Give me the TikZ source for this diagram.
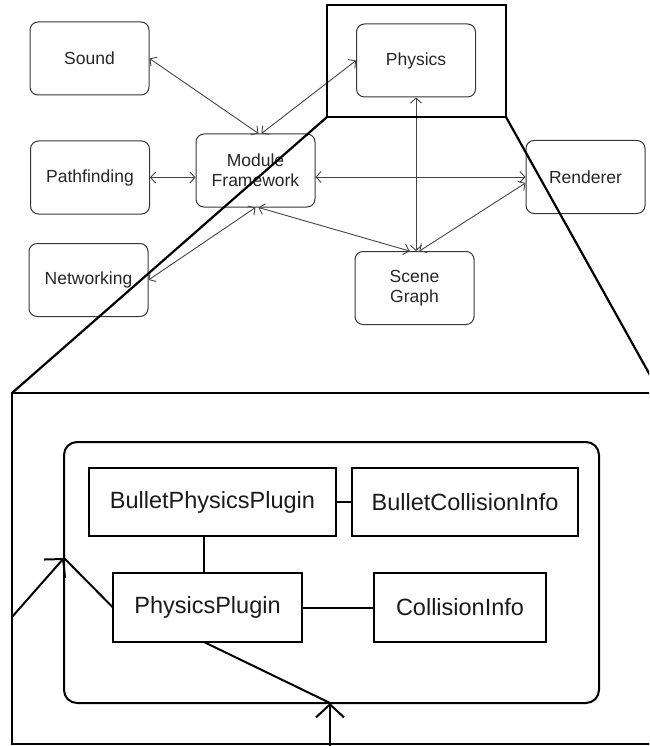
\documentclass[tikz,border=0pt]{standalone}
\usepackage{fontspec}
\setmainfont{Liberation Sans}
\usetikzlibrary{arrows.meta,calc}
\definecolor{modgray}{HTML}{363636}
\definecolor{arrgray}{HTML}{444444}
\definecolor{txtgray}{HTML}{262626}
\definecolor{txtdark}{HTML}{1A1A1A}
\begin{document}
\begin{tikzpicture}[x=1pt,y=-1pt,
  mod/.style={draw=modgray, line width=1pt, rounded corners=8pt, minimum width=119pt, minimum height=73pt, inner sep=0pt, align=center, text=txtgray, font=\fontsize{17.5pt}{20pt}\selectfont, fill=white},
  link/.style={draw=arrgray, line width=0.9pt, {Straight Barb[length=5pt,width=11pt]}-{Straight Barb[length=5pt,width=11pt]}},
  zoomframe/.style={draw, line width=2.2pt, inner sep=0pt, outer sep=0pt},
  cls/.style={draw, line width=2pt, inner sep=0pt, outer sep=0pt, font=\fontsize{23.5pt}{28pt}\selectfont, text=txtdark},
  thickline/.style={line width=2pt},
  bigarrow/.style={line width=2pt, -{Straight Barb[length=13pt,width=28pt]}}
]
\useasboundingbox (0,0) rectangle (649,746);
\clip (0,0) rectangle (649,746);

% top modules
\node[mod] (snd) at (89.5,58.5) {Sound};
\node[mod] (pf)  at (90,177.5) {Pathfinding};
\node[mod] (net) at (88.5,280) {Networking};
\node[mod] (mf)  at (255.5,170.5) {Module\\Framework};
\node[mod] (phy) at (416,60.5) {Physics};
\node[mod] (ren) at (585.5,177) {Renderer};
\node[mod] (sg)  at (414.5,288) {Scene\\Graph};

% connectors
\draw[link] (snd.east) -- ($(mf.north)+(3,0)$);
\draw[link] (phy.west) -- ($(mf.north)+(6,0)$);
\draw[link] (pf.east) -- (pf.east -| mf.west);
\draw[link] (mf.east |- ren.west) -- (ren.west);
\draw[link] (net.east) -- (mf.south);
\draw[link] ($(mf.south)+(3,0)$) -- ($(sg.north)+(-5,0)$);
\draw[link] (phy.south) -- (phy.south |- sg.north);
\draw[link] ($(ren.west)+(0,6)$) -- ($(sg.north)+(5,0)$);

% magnifier
\node[zoomframe, minimum width=179pt, minimum height=112pt] (lens) at (416.5,61) {};
\node[zoomframe, minimum width=648pt, minimum height=351pt] (big) at (336,568.5) {};
\draw[line width=2.2pt] (lens.south west) -- (big.north west);
\draw[line width=2.2pt] (lens.south east) -- (big.north east);

% zoomed content
\node[draw, line width=2pt, rounded corners=13pt, minimum width=535pt, minimum height=261pt, inner sep=0pt, outer sep=0pt] (cont) at (331.5,572.5) {};
\node[cls, minimum width=247pt, minimum height=68pt] (bpp) at (212.5,502) {BulletPhysicsPlugin};
\node[cls, minimum width=226pt, minimum height=68pt] (bci) at (465,502) {BulletCollisionInfo};
\node[cls, minimum width=189pt, minimum height=69pt] (pp) at (207.5,607.5) {PhysicsPlugin};
\node[cls, minimum width=172pt, minimum height=69pt] (ci) at (460,607.5) {CollisionInfo};

\draw[thickline] (bpp.east) -- (bci.west);
\draw[thickline] ([xshift=-8.5pt]bpp.south) -- ([xshift=-3.5pt]pp.north);
\draw[thickline] (pp.east) -- (ci.west);

\coordinate (a1) at (12,617);
\coordinate (c1) at (64,558);
\coordinate (a2) at (330,750);
\coordinate (c2) at (330,703);
\draw[bigarrow] (a1) -- (c1);
\draw[thickline] (c1) -- (pp.west);
\draw[bigarrow] (a2) -- (c2);
\draw[thickline] (c2) -- ([xshift=-3.5pt]pp.south);
\end{tikzpicture}
\end{document}
